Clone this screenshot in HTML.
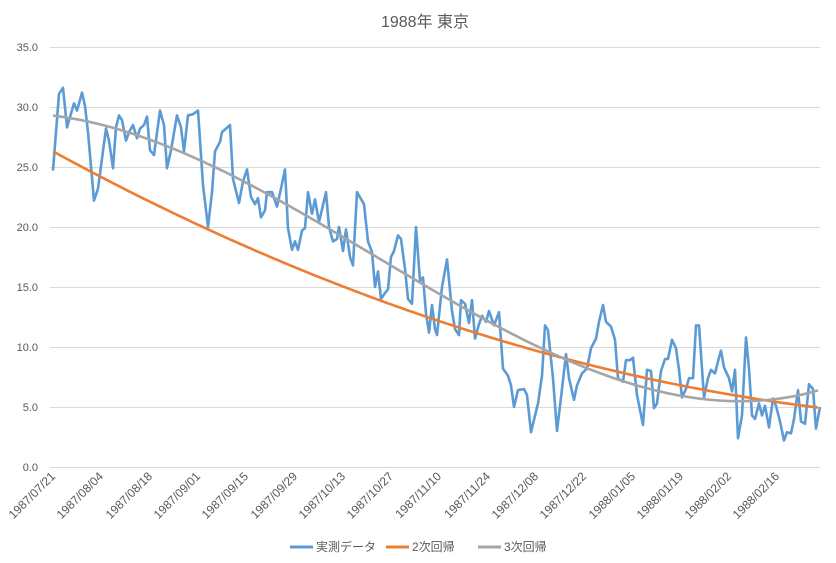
<!DOCTYPE html>
<html><head><meta charset="utf-8"><style>
body{margin:0;background:#fff;}
svg{display:block;font-family:"Liberation Sans","Noto Sans CJK JP",sans-serif;}
</style></head><body>
<svg id="c" width="836" height="563" viewBox="0 0 836 563">
<rect width="836" height="563" fill="#fff"/>
<text x="425" y="27" text-anchor="middle" font-size="16" fill="#595959">1988年 東京</text>
<g stroke="#d9d9d9" stroke-width="1">
<line x1="50" x2="820" y1="47.5" y2="47.5"/><line x1="50" x2="820" y1="107.5" y2="107.5"/>
<line x1="50" x2="820" y1="167.5" y2="167.5"/><line x1="50" x2="820" y1="227.5" y2="227.5"/>
<line x1="50" x2="820" y1="287.5" y2="287.5"/><line x1="50" x2="820" y1="347.5" y2="347.5"/>
<line x1="50" x2="820" y1="407.5" y2="407.5"/><line x1="50" x2="820" y1="467.5" y2="467.5"/>
</g>
<g font-size="11" fill="#595959" text-anchor="end">
<text x="38" y="51">35.0</text><text x="38" y="111">30.0</text><text x="38" y="171">25.0</text>
<text x="38" y="231">20.0</text><text x="38" y="291">15.0</text><text x="38" y="351">10.0</text>
<text x="38" y="411">5.0</text><text x="38" y="471">0.0</text>
</g>
<g font-size="12" fill="#595959" text-anchor="end">
<text x="56" y="477" transform="rotate(-45 56 477)">1987/07/21</text>
<text x="104" y="477" transform="rotate(-45 104 477)">1987/08/04</text>
<text x="153" y="477" transform="rotate(-45 153 477)">1987/08/18</text>
<text x="201" y="477" transform="rotate(-45 201 477)">1987/09/01</text>
<text x="249" y="477" transform="rotate(-45 249 477)">1987/09/15</text>
<text x="298" y="477" transform="rotate(-45 298 477)">1987/09/29</text>
<text x="346" y="477" transform="rotate(-45 346 477)">1987/10/13</text>
<text x="394" y="477" transform="rotate(-45 394 477)">1987/10/27</text>
<text x="442" y="477" transform="rotate(-45 442 477)">1987/11/10</text>
<text x="491" y="477" transform="rotate(-45 491 477)">1987/11/24</text>
<text x="539" y="477" transform="rotate(-45 539 477)">1987/12/08</text>
<text x="587" y="477" transform="rotate(-45 587 477)">1987/12/22</text>
<text x="636" y="477" transform="rotate(-45 636 477)">1988/01/05</text>
<text x="684" y="477" transform="rotate(-45 684 477)">1988/01/19</text>
<text x="732" y="477" transform="rotate(-45 732 477)">1988/02/02</text>
<text x="780" y="477" transform="rotate(-45 780 477)">1988/02/16</text>
</g>
<g stroke-width="3">
<line x1="290" x2="313" y1="547" y2="547" stroke="#5B9BD5"/>
<line x1="386" x2="409" y1="547" y2="547" stroke="#ED7D31"/>
<line x1="478" x2="501" y1="547" y2="547" stroke="#A5A5A5"/>
</g>
<g font-size="12" fill="#595959">
<text x="316" y="551">実測データ</text><text x="412" y="551">2次回帰</text><text x="504" y="551">3次回帰</text>
</g>
<path id="blue" fill="none" stroke="#5B9BD5" stroke-width="2.6" stroke-linejoin="round"/>
<path id="org" fill="none" stroke="#ED7D31" stroke-width="2.6"/>
<path id="gry" fill="none" stroke="#A5A5A5" stroke-width="2.6"/>
</svg>
<script>
var Y=function(v){return 467-v*12;};
var b=[53,24.7,59,31.1,63,31.6,67,28.3,74,30.3,77,29.7,82,31.2,85,30.1,88,27.9,94,22.2,98,23.2,106,28.2,109,27.2,113,24.9,116,28.3,119,29.3,122,28.9,126,27.2,129,27.9,133,28.5,137,27.4,140,28.2,144,28.5,147,29.2,150,26.4,154,26,160,29.7,164,28.5,167,24.9,171,26.4,177,29.3,181,28.3,184,26.3,188,29.3,193,29.4,198,29.7,203,23.5,208,20,212,22.9,215,26.3,220,27.1,222,27.9,226,28.2,230,28.5,233,24,239,22,243,23.8,247,24.8,251,22.5,255,21.9,258,22.4,261,20.8,265,21.4,267,22.9,272,22.9,277,21.7,281,23.2,285,24.8,288,19.9,292,18.1,295,18.8,298,18.1,302,19.7,305,19.9,308,22.9,312,21.1,315,22.3,319,20.4,326,22.9,329,20,333,18.8,337,19,339,20,343,18,346,19.8,350,17.5,353,16.8,357,22.9,364,21.9,368,18.8,372,17.9,375,15,378,16.3,381,14,385,14.5,388,14.8,391,17.5,394,18,398,19.3,401,19,405,16.5,408,14,412,13.6,416,20,420,15.5,423,15.8,426,12.8,429,11.2,432,13.5,435,11.5,437,11,442,15,447,17.3,452,13,455,11.5,459,11,461,13.9,465,13.6,469,12,472,13.9,475,10.7,479,11.9,482,12.6,486,12.1,489,13,494,11.8,499,12.9,503,8.2,508,7.6,511,6.8,514,5,518,6.4,524,6.5,527,6,531,2.9,538,5.3,542,7.6,545,11.8,548,11.4,553,7.4,557,3,562,6.5,566,9.4,569,7.4,574,5.6,577,6.8,582,7.8,587,8.2,591,9.9,596,10.7,599,12.1,603,13.5,606,12.1,611,11.7,615,10.6,618,7.4,623,7.1,626,8.9,630,8.9,633,9.1,637,6,643,3.5,647,8.1,651,8,654,4.9,657,5.3,661,8,665,9,668,9,672,10.6,676,9.9,679,8.1,682,5.8,686,6.5,689,7.4,693,7.4,696,11.8,699,11.8,704,5.8,708,7.4,711,8.1,715,7.8,718,8.8,721,9.7,724,8.3,729,7.4,732,6.3,735,8.1,738,2.4,742,4.3,746,10.8,749,8.2,752,4.3,755,4,759,5.3,762,4.3,765,5.1,769,3.3,773,5.7,776,5.1,780,3.8,784,2.2,787,2.9,791,2.8,794,4,798,6.4,801,3.8,805,3.6,809,6.9,813,6.5,816,3.2,820,5];
var d="";for(var i=0;i<b.length;i+=2){d+=(i?"L":"M")+b[i]+","+Y(b[i+1]).toFixed(1);}
document.getElementById("blue").setAttribute("d",d);
function fit(p,deg){var n=deg+1,A=[],r=[];for(var i=0;i<n;i++){A.push(new Array(n).fill(0));r.push(0);}
for(var k=0;k<p.length;k+=2){var t=(p[k]-430)/400,v=p[k+1];for(var i=0;i<n;i++){r[i]+=Math.pow(t,i)*v;for(var j=0;j<n;j++)A[i][j]+=Math.pow(t,i+j);}}
for(var i=0;i<n;i++){for(var j=i+1;j<n;j++){var f=A[j][i]/A[i][i];for(var q=i;q<n;q++)A[j][q]-=f*A[i][q];r[j]-=f*r[i];}}
var c=new Array(n).fill(0);for(var i=n-1;i>=0;i--){var s=r[i];for(var j=i+1;j<n;j++)s-=A[i][j]*c[j];c[i]=s/A[i][i];}return c;}
function path(c){var d="";for(var x=53;x<=820;x+=3){var t=(x-430)/400,v=0;for(var i=0;i<c.length;i++)v+=c[i]*Math.pow(t,i);d+=(x==53?"M":"L")+x+","+Y(v).toFixed(1);}return d;}
document.getElementById("org").setAttribute("d",path(fit([52,26.3,203,20,300,16.6,440,12.1,552,9.3,643,7.4,745,5.8,820,5.0],2)));
document.getElementById("gry").setAttribute("d",path(fit([53,29.4,83,28.9,150,27.1,203,25.1,273,22.8,340,19.6,407,16,440,14.2,542,9.9,643,6.5,728,5.6,765,5.6,820,6.4],3)));
</script>
</body></html>
